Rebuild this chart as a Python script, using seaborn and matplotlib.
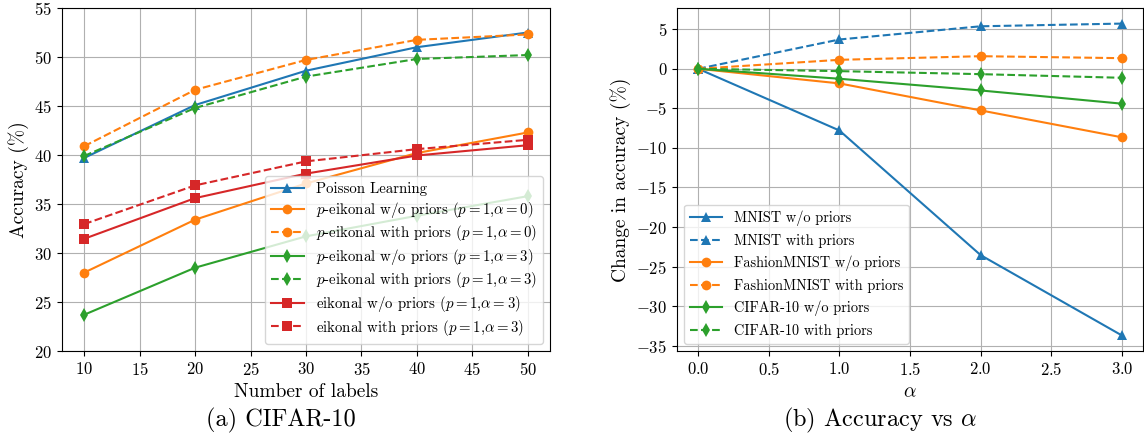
import matplotlib
matplotlib.use("Agg")
import matplotlib.pyplot as plt
import seaborn as sns
import pandas as pd

# ---- data: panel (a) CIFAR-10 ----
num_labels = [10, 20, 30, 40, 50]
poisson = [39.7, 45.1, 48.6, 51.0, 52.5]
peik_a0_wo = [28.0, 33.4, 37.1, 40.2, 42.3]
peik_a0_with = [40.9, 46.65, 49.7, 51.75, 52.3]
peik_a3_wo = [23.7, 28.5, 31.7, 33.8, 35.8]
peik_a3_with = [39.9, 44.8, 48.0, 49.8, 50.2]
eik_wo = [31.45, 35.6, 38.1, 39.95, 41.0]
eik_with = [32.95, 36.9, 39.35, 40.6, 41.55]

# ---- data: panel (b) accuracy vs alpha ----
alphas = [0.0, 1.0, 2.0, 3.0]
mnist_wo = [0.0, -7.8, -23.55, -33.7]
mnist_with = [0.0, 3.7, 5.37, 5.71]
fashion_wo = [0.0, -1.85, -5.26, -8.66]
fashion_with = [0.0, 1.13, 1.59, 1.34]
cifar_wo = [0.0, -1.26, -2.74, -4.41]
cifar_with = [0.0, -0.3, -0.68, -1.14]

plt.rcParams["font.family"] = "serif"
plt.rcParams["font.serif"] = ["cmr10", "DejaVu Serif"]
plt.rcParams["mathtext.fontset"] = "cm"
plt.rcParams["axes.formatter.use_mathtext"] = True

C_BLUE, C_ORANGE, C_GREEN, C_RED = "#1f77b4", "#ff7f0e", "#2ca02c", "#d62728"

fig = plt.figure(figsize=(11.44, 4.41), dpi=100)
W, H = 1144, 441
ax1 = fig.add_axes([62 / W, 1 - 351 / H, (550 - 62) / W, (351 - 8) / H])
ax2 = fig.add_axes([677 / W, 1 - 351 / H, (1143 - 677) / W, (351 - 8) / H])

lw, ms = 1.5, 7

series_a = [
    (poisson, "Poisson Learning", C_BLUE, "^", "-"),
    (peik_a0_wo, r"$p$-eikonal w/o priors ($p=1$,$\alpha=0$)", C_ORANGE, "o", "-"),
    (peik_a0_with, r"$p$-eikonal with priors ($p=1$,$\alpha=0$)", C_ORANGE, "o", "--"),
    (peik_a3_wo, r"$p$-eikonal w/o priors ($p=1$,$\alpha=3$)", C_GREEN, "d", "-"),
    (peik_a3_with, r"$p$-eikonal with priors ($p=1$,$\alpha=3$)", C_GREEN, "d", "--"),
    (eik_wo, r"eikonal w/o priors ($p=1$,$\alpha=3$)", C_RED, "s", "-"),
    (eik_with, r"eikonal with priors ($p=1$,$\alpha=3$)", C_RED, "s", "--"),
]
for vals, lab, col, mk, ls in series_a:
    sns.lineplot(x=num_labels, y=vals, ax=ax1, label=lab, color=col, marker=mk,
                 linestyle=ls, linewidth=lw, markersize=ms, markeredgewidth=0)

series_b = [
    (mnist_wo, "MNIST w/o priors", C_BLUE, "^", "-"),
    (mnist_with, "MNIST with priors", C_BLUE, "^", "--"),
    (fashion_wo, "FashionMNIST w/o priors", C_ORANGE, "o", "-"),
    (fashion_with, "FashionMNIST with priors", C_ORANGE, "o", "--"),
    (cifar_wo, "CIFAR-10 w/o priors", C_GREEN, "d", "-"),
    (cifar_with, "CIFAR-10 with priors", C_GREEN, "d", "--"),
]
for vals, lab, col, mk, ls in series_b:
    sns.lineplot(x=alphas, y=vals, ax=ax2, label=lab, color=col, marker=mk,
                 linestyle=ls, linewidth=lw, markersize=ms, markeredgewidth=0)

ax1.set_ylim(20, 55)
ax1.set_xticks([10, 15, 20, 25, 30, 35, 40, 45, 50])
ax1.set_yticks([20, 25, 30, 35, 40, 45, 50, 55])
ax1.set_xlabel("Number of labels", fontsize=14)
ax1.set_ylabel("Accuracy (%)", fontsize=14)
ax1.legend(loc="lower right", fontsize=10.7, labelspacing=0.24, handlelength=2.2)

ax2.set_xticks([0.0, 0.5, 1.0, 1.5, 2.0, 2.5, 3.0])
ax2.set_yticks([5, 0, -5, -10, -15, -20, -25, -30, -35])
ax2.set_xlabel(r"$\alpha$", fontsize=14)
ax2.set_ylabel("Change in accuracy (%)", fontsize=14)
ax2.legend(loc="lower left", fontsize=10.3, labelspacing=0.55, handlelength=2.25)

for ax in (ax1, ax2):
    ax.grid(True, color="#b0b0b0", linewidth=0.8)
    ax.tick_params(labelsize=12)

fig.text(281 / W, 1 - 420 / H, "(a) CIFAR-10", ha="center", va="center", fontsize=17.5)
fig.text(880 / W, 1 - 420 / H, r"(b) Accuracy vs $\alpha$", ha="center", va="center", fontsize=17.5)

fig.savefig("out.png", dpi=100)
